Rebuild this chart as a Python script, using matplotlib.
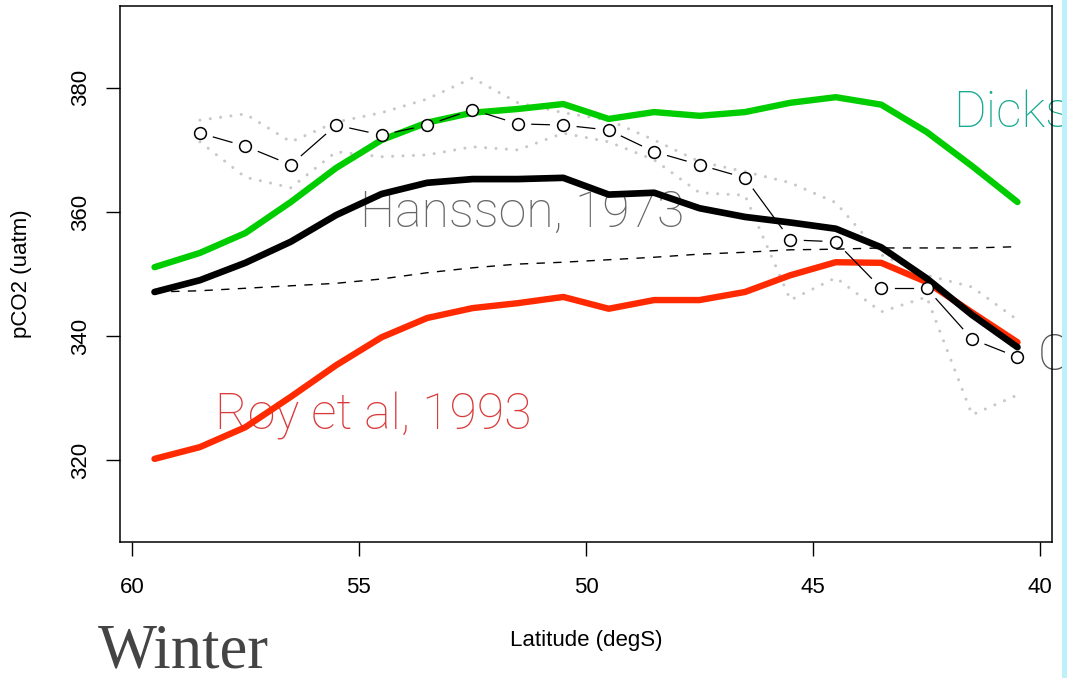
import numpy as np
import matplotlib
matplotlib.use("Agg")
import matplotlib.pyplot as plt
from matplotlib.patches import Rectangle

# latitude of the model curves (degS)
lat_line = [59.5, 58.5, 57.5, 56.5, 55.5, 54.5, 53.5, 52.5, 51.5, 50.5,
            49.5, 48.5, 47.5, 46.5, 45.5, 44.5, 43.5, 42.5, 41.5, 40.5]
dickson = [351.1, 353.4, 356.6, 361.6, 367.1, 371.6, 374.4, 376.0, 376.6, 377.4,
           375.0, 376.1, 375.5, 376.1, 377.6, 378.5, 377.3, 372.9, 367.4, 361.6]
hansson = [347.1, 349.0, 351.8, 355.2, 359.5, 362.9, 364.7, 365.3, 365.3, 365.5,
           362.8, 363.1, 360.6, 359.2, 358.3, 357.3, 354.3, 349.3, 343.4, 338.2]
roy = [320.2, 322.1, 325.3, 330.2, 335.3, 339.8, 342.9, 344.5, 345.3, 346.3,
       344.4, 345.8, 345.8, 347.1, 349.8, 351.9, 351.8, 348.7, 343.8, 339.0]
atm = [347.1, 347.3, 347.7, 348.1, 348.5, 349.2, 350.2, 351.0, 351.6, 351.9,
       352.3, 352.7, 353.2, 353.5, 353.9, 354.0, 354.2, 354.2, 354.2, 354.4]

# observations (mean and spread)
lat_obs = [58.5, 57.5, 56.5, 55.5, 54.5, 53.5, 52.5, 51.5, 50.5, 49.5,
           48.5, 47.5, 46.5, 45.5, 44.5, 43.5, 42.5, 41.5, 40.5]
obs_mean = [372.7, 370.6, 367.6, 374.0, 372.4, 374.0, 376.5, 374.2, 374.0, 373.2,
            369.7, 367.6, 365.5, 355.5, 355.2, 347.7, 347.7, 339.5, 336.6]
obs_hi = [374.8, 375.8, 371.3, 374.5, 376.0, 378.2, 381.6, 377.6, 376.0, 374.8,
          371.6, 368.1, 366.5, 364.7, 361.5, 353.1, 349.8, 347.9, 342.6]
obs_lo = [371.3, 365.6, 363.9, 369.7, 368.9, 369.2, 370.5, 370.0, 372.7, 371.3,
          368.4, 363.1, 362.7, 345.8, 349.4, 343.9, 346.3, 327.3, 330.5]

x_ticks = [60, 55, 50, 45, 40]
y_ticks = [320, 340, 360, 380]

W, H = 1067, 678
fig = plt.figure(figsize=(W / 100, H / 100), dpi=100)
ax = fig.add_axes([120 / W, 1 - 542 / H, 932 / W, 536 / H])
ax.set_xlim(60.26, 39.74)
ax.set_ylim(306.8, 393.2)

sans = ["Liberation Sans", "DejaVu Sans"]
ax.set_xticks(x_ticks)
ax.set_yticks(y_ticks)
ax.set_xticklabels([str(v) for v in x_ticks], family=sans, fontsize=16)
ax.set_yticklabels([str(v) for v in y_ticks], family=sans, fontsize=16,
                   rotation=90, va="center")
ax.tick_params(axis="x", length=10, width=1, pad=15, direction="out")
ax.tick_params(axis="y", length=10, width=1, pad=11, direction="out")
for s in ax.spines.values():
    s.set_linewidth(1.1)
ax.set_xlabel("Latitude (degS)", family=sans, fontsize=16, labelpad=23)
ax.set_ylabel("pCO2 (uatm)", family=sans, fontsize=16, labelpad=27)

# spread of the observations
dots = (0, (0.01, 3.4))
ax.plot(lat_obs, obs_hi, color="#c8c8c8", lw=2.2, ls=dots,
        dash_capstyle="round", zorder=2)
ax.plot(lat_obs, obs_lo, color="#c8c8c8", lw=2.2, ls=dots,
        dash_capstyle="round", zorder=2)

ax.plot(lat_line, atm, color="black", lw=1.0, ls=(0, (6, 6)), zorder=3)
ax.plot(lat_line, dickson, color="#00cd00", lw=4.6, solid_capstyle="round", zorder=4)
ax.plot(lat_line, roy, color="#ff2a00", lw=4.6, solid_capstyle="round", zorder=4)
ax.plot(lat_line, hansson, color="black", lw=4.8, solid_capstyle="round", zorder=5)

# R type="b": segments stop short of the points
pts = ax.transData.transform(np.column_stack([lat_obs, obs_mean]))
gap = 14
inv = ax.transData.inverted()
for p0, p1 in zip(pts[:-1], pts[1:]):
    d = p1 - p0
    L = np.hypot(*d)
    if L <= 2 * gap:
        continue
    a = inv.transform(p0 + d / L * gap)
    b = inv.transform(p1 - d / L * gap)
    ax.plot([a[0], b[0]], [a[1], b[1]], color="black", lw=0.9, zorder=6)
ax.plot(lat_obs, obs_mean, ls="none", marker="o", ms=8.5, mfc="white",
        mec="black", mew=1.1, zorder=7)

# slide annotations
ann = dict(family=["Roboto", "Lato", "DejaVu Sans"], fontweight="light", fontsize=36,
           transform=fig.transFigure, clip_on=False, zorder=1)
ax.text(360 / W, 1 - 227 / H, "Hansson, 1973", color="#666666", **ann)
ax.text(215 / W, 1 - 430 / H, "Roy et al, 1993", color="#d93a3a", **ann)
ax.text(953 / W, 1 - 127 / H, "Dickson", color="#17a991", **ann)
ax.text(1038 / W, 1 - 370 / H, "O", color="#555555", **ann)

fig.text(98 / W, 1 - 668 / H, "Winter", family=["Liberation Serif", "DejaVu Serif"],
         fontsize=45, color="#444444")

fig.add_artist(Rectangle((1062 / W, 0), 5 / W, 1, transform=fig.transFigure,
                         facecolor="#bdf1fa", edgecolor="none", zorder=10))

fig.savefig("out.png", dpi=100)
